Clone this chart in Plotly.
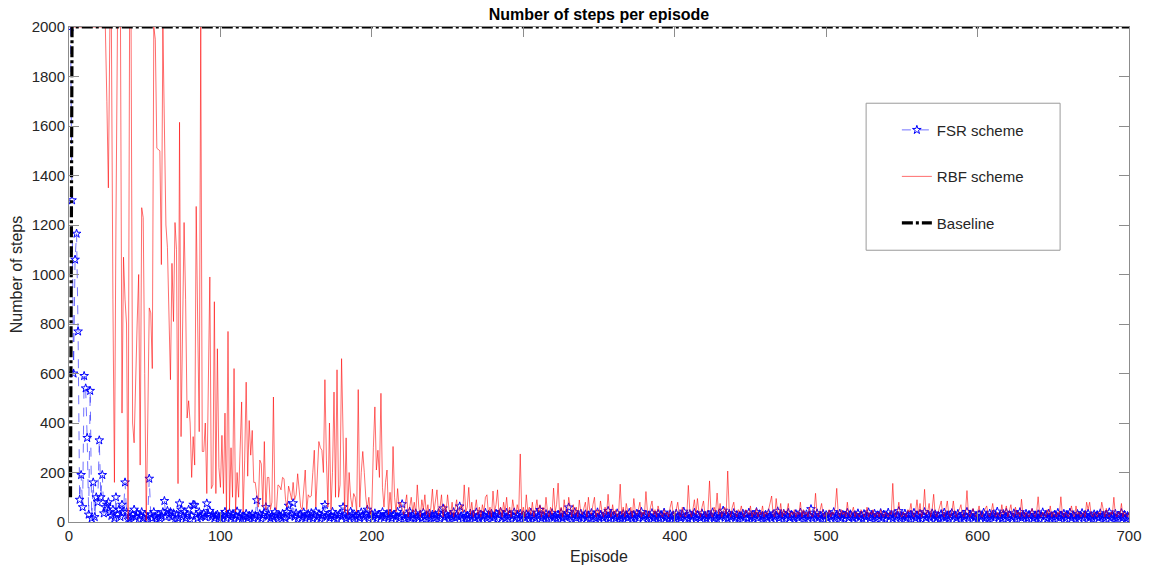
import plotly.graph_objects as go

episodes = list(range(1, 701))

rbf_steps = [
    2000, 2000, 2000, 2000, 2000, 2000, 2000, 2000, 2000, 2000, 2000, 2000, 2000, 2000, 2000, 2000, 2000, 2000, 2000, 2000,
    2000, 2000, 2000, 2000, 1700, 1350, 2000, 2000, 900, 160, 1200, 2000, 2000, 2000, 440, 1070, 900, 800, 10, 2000,
    2000, 400, 320, 600, 800, 1000, 230, 1270, 1230, 600, 5, 400, 865, 845, 620, 2000, 1950, 1510, 1505, 1500,
    1040, 2000, 1600, 1200, 1110, 800, 575, 1045, 810, 1210, 1100, 155, 1615, 345, 800, 1210, 900, 420, 490, 400,
    180, 345, 230, 1275, 800, 365, 2000, 285, 285, 400, 115, 500, 990, 135, 150, 890, 115, 700, 220, 140,
    350, 115, 440, 40, 770, 50, 300, 100, 620, 40, 200, 100, 300, 485, 40, 250, 565, 185, 410, 270,
    370, 160, 160, 100, 60, 250, 235, 60, 325, 50, 180, 180, 50, 80, 505, 60, 50, 150, 145, 130,
    180, 175, 90, 60, 145, 120, 90, 160, 90, 110, 195, 130, 60, 50, 120, 210, 50, 110, 100, 105,
    200, 290, 60, 230, 325, 300, 290, 200, 575, 250, 60, 400, 50, 200, 525, 100, 615, 100, 150, 660,
    300, 40, 340, 30, 200, 100, 60, 115, 100, 40, 535, 60, 200, 285, 200, 100, 50, 100, 30, 60,
    300, 465, 210, 290, 180, 520, 140, 60, 160, 210, 30, 120, 40, 305, 100, 40, 135, 60, 80, 60,
    30, 70, 110, 20, 60, 100, 40, 80, 30, 150, 60, 20, 90, 50, 110, 30, 70, 20, 60, 133,
    40, 90, 130, 30, 60, 110, 20, 70, 40, 110, 50, 30, 80, 20, 60, 90, 30, 50, 70, 40,
    150, 40, 60, 140, 30, 80, 20, 50, 90, 30, 60, 20, 70, 40, 100, 110, 30, 60, 20, 125,
    40, 70, 130, 30, 60, 20, 80, 40, 100, 30, 60, 20, 90, 50, 30, 70, 40, 275, 30, 60,
    20, 110, 40, 60, 30, 80, 20, 50, 90, 40, 70, 20, 60, 30, 100, 40, 20, 60, 30, 137,
    40, 70, 157, 30, 60, 20, 90, 40, 30, 100, 50, 20, 70, 30, 60, 20, 89, 40, 30, 60,
    80, 20, 100, 40, 30, 70, 100, 20, 50, 30, 85, 40, 20, 60, 30, 112, 40, 20, 70, 30,
    50, 20, 40, 153, 30, 60, 20, 75, 40, 30, 60, 20, 95, 40, 30, 50, 80, 20, 40, 30,
    123, 40, 20, 60, 85, 30, 50, 20, 65, 40, 30, 20, 50, 30, 40, 20, 60, 85, 30, 20,
    50, 80, 30, 20, 60, 40, 20, 30, 148, 40, 20, 50, 90, 30, 95, 40, 20, 60, 85, 30,
    20, 50, 166, 30, 20, 60, 40, 117, 30, 75, 20, 40, 60, 30, 206, 40, 20, 60, 80, 30,
    20, 50, 40, 65, 30, 20, 50, 40, 30, 65, 20, 40, 30, 55, 20, 40, 30, 65, 20, 40,
    30, 50, 75, 105, 30, 20, 95, 40, 30, 75, 20, 50, 30, 40, 75, 20, 40, 30, 50, 20,
    40, 30, 80, 20, 50, 30, 40, 20, 60, 30, 20, 40, 116, 30, 20, 50, 75, 30, 20, 40,
    30, 50, 20, 40, 30, 60, 136, 30, 20, 50, 30, 40, 20, 80, 30, 20, 40, 60, 20, 40,
    30, 20, 50, 40, 20, 30, 60, 20, 40, 30, 50, 20, 30, 40, 20, 50, 30, 20, 40, 30,
    20, 40, 30, 156, 30, 20, 40, 80, 30, 20, 40, 30, 20, 50, 40, 75, 30, 20, 40, 90,
    30, 75, 20, 40, 132, 30, 40, 75, 20, 50, 112, 30, 20, 40, 60, 85, 30, 20, 50, 85,
    30, 20, 40, 85, 30, 20, 40, 50, 70, 30, 20, 40, 127, 30, 20, 40, 55, 30, 20, 40,
    65, 30, 20, 40, 50, 65, 30, 20, 40, 75, 30, 20, 40, 30, 20, 70, 30, 40, 65, 20,
    40, 70, 30, 20, 60, 30, 40, 20, 92, 30, 20, 40, 30, 20, 40, 55, 30, 20, 40, 102,
    30, 20, 40, 30, 20, 50, 30, 65, 20, 40, 30, 20, 40, 30, 102, 30, 20, 40, 30, 20,
    40, 65, 30, 20, 65, 30, 40, 20, 30, 40, 20, 80, 50, 80, 30, 20, 40, 30, 20, 40,
    30, 80, 40, 20, 55, 30, 20, 40, 30, 100, 30, 20, 40, 30, 75, 20, 40, 30, 20, 40,
]

fsr_steps = [
    2000, 1300, 600, 1060, 1165, 770, 90, 190, 60, 590, 540, 340, 30, 530, 15, 160, 20, 100, 80, 330,
    100, 190, 35, 60, 70, 80, 40, 25, 50, 15, 100, 30, 50, 20, 70, 40, 160, 40, 10, 15,
    20, 30, 50, 20, 35, 10, 25, 40, 15, 30, 10, 20, 175, 30, 15, 40, 20, 10, 30, 15,
    25, 40, 85, 20, 45, 30, 40, 20, 35, 10, 30, 15, 75, 50, 20, 40, 15, 30, 50, 10,
    25, 70, 68, 30, 15, 40, 20, 25, 35, 20, 75, 30, 45, 20, 30, 15, 25, 30, 20, 15,
    30, 22, 41, 14, 27, 36, 19, 31, 12, 25, 43, 18, 29, 10, 24, 21, 33, 15, 26, 20,
    31, 14, 25, 88, 19, 32, 13, 27, 36, 60, 21, 28, 15, 24, 18, 40, 29, 13, 26, 22,
    33, 19, 14, 41, 66, 23, 30, 76, 21, 35, 12, 27, 31, 18, 39, 15, 24, 32, 20, 36,
    14, 26, 42, 19, 31, 13, 24, 37, 69, 20, 28, 16, 25, 41, 18, 30, 12, 27, 34, 21,
    60, 29, 14, 26, 19, 42, 31, 13, 24, 22, 30, 15, 39, 26, 18, 33, 50, 14, 25, 31,
    19, 35, 13, 27, 30, 21, 40, 16, 24, 32, 18, 34, 15, 26, 29, 20, 41, 14, 23, 72,
    24, 13, 31, 19, 42, 16, 27, 12, 35, 21, 18, 29, 14, 38, 22, 26, 11, 33, 17, 30,
    15, 28, 20, 36, 13, 25, 55, 18, 32, 23, 12, 29, 19, 40, 16, 27, 21, 63, 24, 14,
    31, 17, 26, 12, 34, 20, 28, 15, 39, 22, 13, 30, 18, 25, 37, 14, 29, 21, 33, 16,
    22, 34, 12, 28, 41, 18, 26, 14, 37, 21, 30, 11, 24, 39, 17, 29, 13, 33, 20, 27,
    16, 31, 23, 12, 38, 19, 27, 14, 35, 22, 49, 15, 26, 18, 32, 11, 28, 21, 36, 17,
    25, 13, 30, 20, 37, 15, 24, 18, 33, 59, 21, 12, 29, 40, 16, 26, 19, 34, 13, 23,
    31, 17, 27, 12, 36, 20, 25, 14, 39, 18, 28, 22, 15, 33, 19, 45, 13, 30, 21, 26,
    14, 35, 18, 24, 11, 32, 20, 28, 16, 37, 22, 13, 29, 19, 34, 15, 26, 41, 17, 23,
    30, 12, 27, 20, 36, 15, 24, 18, 33, 13, 28, 21, 38, 16, 25, 11, 31, 19, 27, 14,
    34, 20, 23, 15, 29, 42, 17, 26, 12, 32, 19, 24, 37, 14, 28, 21, 16, 35, 20, 25,
    13, 30, 18, 27, 39, 15, 23, 11, 31, 20, 26, 46, 17, 29, 14, 33, 19, 24, 36, 16,
    28, 12, 25, 21, 34, 17, 30, 14, 38, 19, 23, 13, 27, 40, 16, 31, 20, 25, 11, 29,
    18, 35, 22, 14, 30, 19, 26, 43, 15, 28, 21, 33, 12, 24, 37, 17, 29, 20, 13, 32,
    23, 16, 38, 21, 27, 12, 31, 18, 25, 52, 14, 29, 20, 35, 17, 26, 11, 33, 22, 28,
    15, 30, 19, 24, 40, 13, 27, 21, 34, 16, 29, 12, 25, 37, 18, 31, 20, 14, 28, 23,
    35, 17, 26, 11, 32, 20, 24, 39, 15, 28, 19, 33, 13, 27, 22, 36, 16, 30, 12, 25,
    38, 21, 29, 14, 31, 18, 26, 44, 13, 24, 20, 34, 16, 28, 11, 30, 22, 37, 15, 27,
    19, 33, 12, 25, 40, 17, 29, 21, 14, 35, 23, 31, 16, 26, 11, 32, 20, 38, 18, 24,
    13, 29, 36, 20, 27, 15, 33, 22, 12, 30, 18, 25, 41, 14, 28, 21, 35, 17, 24, 11,
    31, 19, 26, 38, 15, 23, 12, 34, 20, 29, 16, 27, 42, 18, 25, 13, 32, 21, 37, 14,
    28, 22, 17, 35, 11, 30, 24, 40, 16, 26, 19, 33, 13, 29, 21, 36, 15, 27, 18, 31,
    12, 25, 39, 20, 28, 14, 34, 17, 23, 11, 30, 22, 37, 16, 26, 19, 33, 13, 29, 24,
    38, 15, 27, 21, 12, 32, 18, 25, 36, 14, 29, 20, 34, 17, 24, 11, 31, 22, 28, 16,
    35, 19, 26, 13, 30, 23, 39, 15, 27, 18, 33, 12, 25, 21, 36, 17, 29, 14, 24, 20,
]

baseline_steps = [100] + [2000] * 699

x_ticks = [0, 100, 200, 300, 400, 500, 600, 700]
y_ticks = [0, 200, 400, 600, 800, 1000, 1200, 1400, 1600, 1800, 2000]

FONT = "Liberation Sans, Arial, Helvetica, sans-serif"
AXIS_GRAY = "#8c8c8c"
TEXT = "#262626"

fig = go.Figure()
fig.add_trace(go.Scatter(
    x=episodes, y=fsr_steps, name="FSR scheme", mode="lines+markers",
    line=dict(color="rgba(0,0,255,0.7)", width=0.8, dash="dash"),
    marker=dict(symbol="star-open", size=6.5, color="blue", line=dict(color="blue", width=1)),
    legendgroup="a",
))
fig.add_trace(go.Scatter(
    x=episodes, y=rbf_steps, name="RBF scheme", mode="lines",
    line=dict(color="rgba(255,0,0,0.72)", width=0.8),
    legendgroup="b",
))
fig.add_trace(go.Scatter(
    x=episodes, y=baseline_steps, name="Baseline", mode="lines",
    line=dict(color="black", width=3.2, dash="11px,3px,3px,3px"),
    legendgroup="c",
))

axis_common = dict(
    showgrid=False, zeroline=False, showline=True, linecolor=AXIS_GRAY, linewidth=1,
    mirror="ticks", ticks="inside", ticklen=10, tickcolor=AXIS_GRAY, tickwidth=1,
    tickfont=dict(family=FONT, size=15, color=TEXT),
)

fig.update_xaxes(range=[0, 700], tickvals=x_ticks,
                 title=dict(text="Episode", font=dict(family=FONT, size=16, color=TEXT), standoff=7),
                 **axis_common)
fig.update_yaxes(range=[0, 2000], tickvals=y_ticks,
                 title=dict(text="Number of steps", font=dict(family=FONT, size=16, color=TEXT), standoff=5),
                 **axis_common)

fig.add_shape(type="rect", xref="paper", yref="paper",
              x0=0.752, x1=0.935, y0=0.549, y1=0.846,
              line=dict(color="#9a9a9a", width=1), fillcolor="white", layer="above")

fig.update_layout(
    width=1153, height=569,
    margin=dict(l=69, r=24, t=27, b=47, autoexpand=False),
    paper_bgcolor="white", plot_bgcolor="white",
    title=dict(text="<b>Number of steps per episode</b>", x=0.5, xref="paper",
               y=0.975, yref="container", yanchor="middle",
               font=dict(family=FONT, size=16, color="black")),
    showlegend=True,
    legend=dict(x=0.781, y=0.825, xanchor="left", yanchor="top",
                bgcolor="rgba(0,0,0,0)", borderwidth=0,
                font=dict(family=FONT, size=15, color=TEXT),
                traceorder="grouped", tracegroupgap=24),
    font=dict(family=FONT, color=TEXT),
)

fig.write_html("out.html")
